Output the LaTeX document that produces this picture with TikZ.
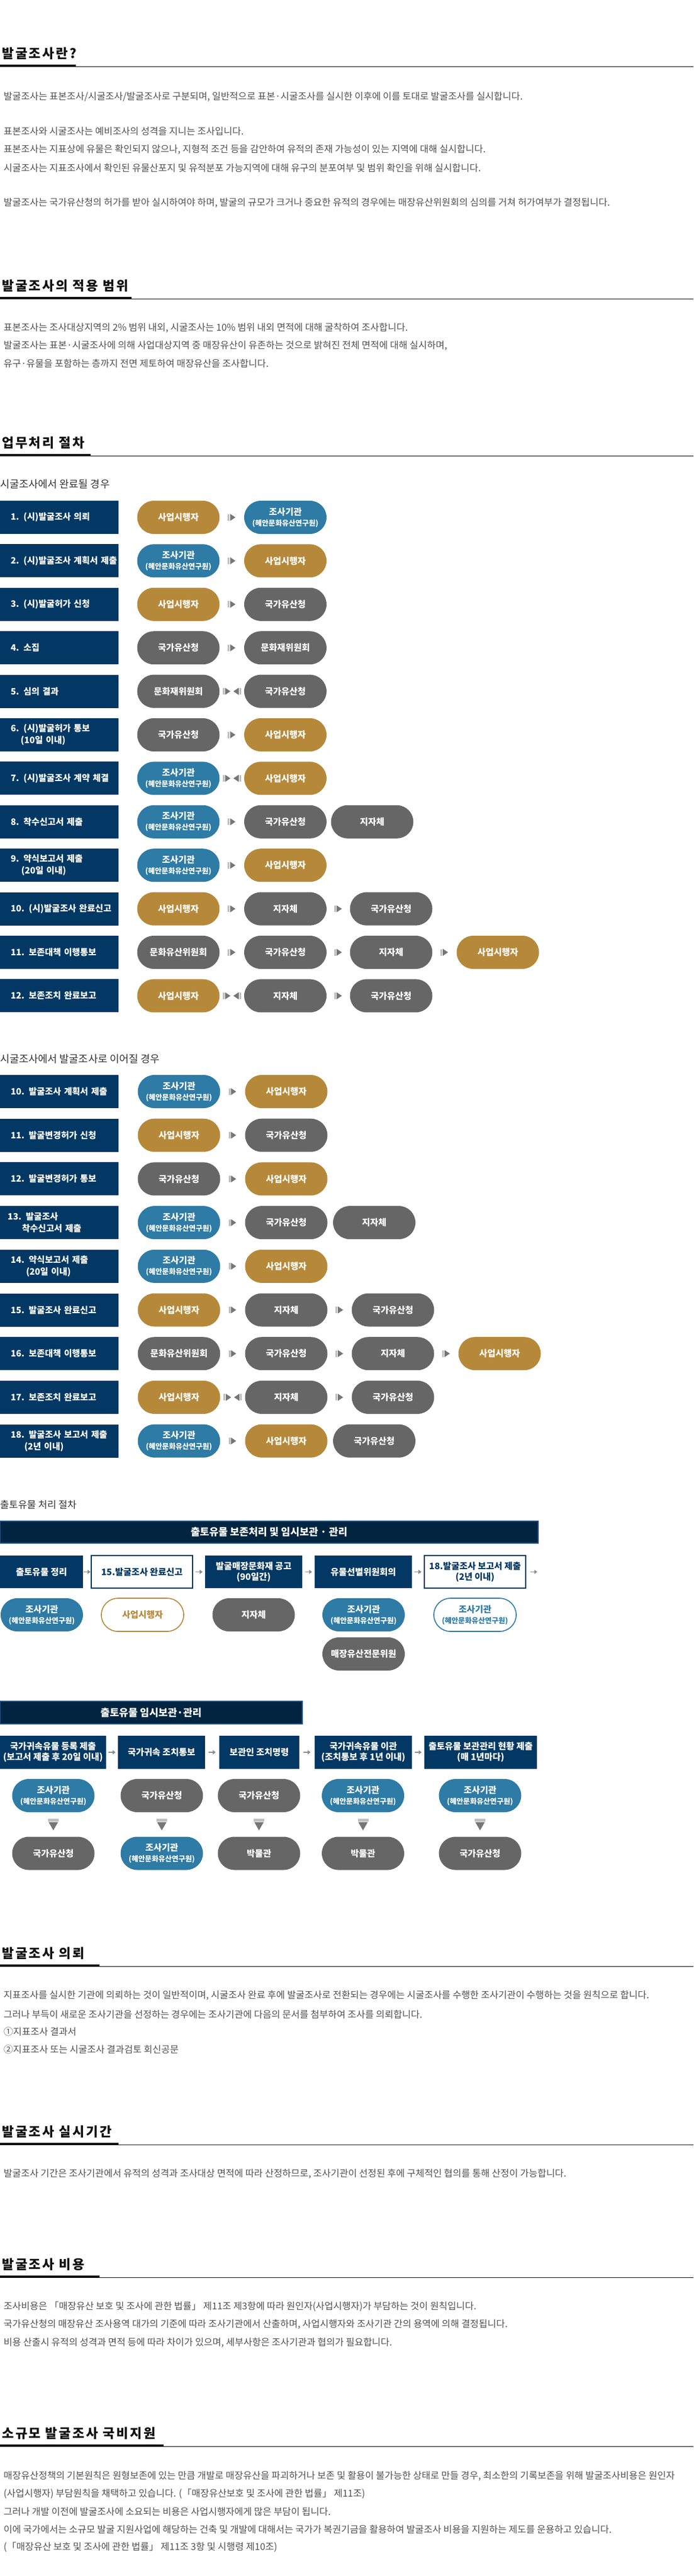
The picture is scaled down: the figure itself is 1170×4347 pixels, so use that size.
\documentclass[tikz,border=0pt]{standalone}
\usepackage{fontspec}
\setmainfont{Noto Sans CJK KR}
\newfontfamily\headfont[LetterSpace=12]{Noto Sans CJK KR}
\usetikzlibrary{decorations.markings,arrows.meta}

\definecolor{cnavy}{RGB}{2,56,99}
\definecolor{cbanner}{RGB}{1,37,64}
\definecolor{cbanedge}{RGB}{30,80,130}
\definecolor{cgold}{RGB}{182,137,58}
\definecolor{cblue}{RGB}{46,123,165}
\definecolor{cgray}{RGB}{102,102,102}
\definecolor{ctext}{RGB}{80,80,80}
\definecolor{csub}{RGB}{51,51,51}
\definecolor{chead}{RGB}{17,17,17}
\definecolor{carrbar}{RGB}{192,192,192}
\definecolor{carrtri}{RGB}{118,118,118}
\definecolor{cstep}{RGB}{140,140,140}

\newcommand{\bodyfnt}{\fontsize{16pt}{19pt}\selectfont}
\newcommand{\headfnt}{\headfont\bfseries\fontsize{22pt}{26pt}\selectfont}
\newcommand{\subfnt}{\fontsize{17.5pt}{21pt}\selectfont}
\newcommand{\boxfnt}{\bfseries\fontsize{14.8pt}{20pt}\selectfont}
\newcommand{\pillfnt}{\bfseries\fontsize{15pt}{17pt}\selectfont}
\newcommand{\orgfnt}{\fontsize{12.3pt}{14pt}\selectfont}
\newcommand{\stepfnt}{\bfseries\fontsize{15pt}{18pt}\selectfont}
\newcommand{\banfnt}{\bfseries\fontsize{17pt}{20pt}\selectfont}
\newcommand{\orgname}{조사기관\\[1pt]{\orgfnt(혜안문화유산연구원)}}
\newcommand{\lpad}{\hspace*{18pt}}

\tikzset{
  every node/.style={inner sep=0pt},
  body/.style={anchor=west, text=ctext, font=\bodyfnt},
  head/.style={anchor=west, text=chead, font=\headfnt},
  subhead/.style={anchor=west, text=csub, font=\subfnt},
  rowbox/.style={fill=cnavy, minimum height=56pt, text width=200pt, align=left, text=white, font=\boxfnt},
  pill/.style={rectangle, rounded corners=28pt, minimum width=139pt, minimum height=56pt, align=center, text=white, font=\pillfnt},
  pgold/.style={pill, fill=cgold},
  pblue/.style={pill, fill=cblue},
  pgray/.style={pill, fill=cgray},
  pgoldo/.style={pill, fill=white, draw=cgold, line width=1.6pt, text=cgold},
  pblueo/.style={pill, fill=white, draw=cblue, line width=1.6pt, text=cblue},
  stepbox/.style={fill=cnavy, minimum height=55pt, align=center, text=white, font=\stepfnt},
  stepwhite/.style={fill=white, draw=cnavy, line width=2pt, minimum height=55pt, align=center, text=cnavy, font=\stepfnt},
  banner/.style={fill=cbanner, draw=cbanedge, line width=1.5pt, minimum height=37pt, text=white, font=\banfnt},
  fwd/.style={decoration={markings, mark=at position 0.5 with {\fill[carrbar] (-7,-5.5) rectangle (-4,5.5); \fill[carrtri] (-3,-6) -- (6,0) -- (-3,6) -- cycle;}}, decorate},
  bidir/.style={decoration={markings, mark=at position 0.5 with {\fill[carrbar] (-15.5,-5.5) rectangle (-12.5,5.5); \fill[carrtri] (-11.5,-6) -- (-2.5,0) -- (-11.5,6) -- cycle; \fill[carrtri] (11.5,-6) -- (2.5,0) -- (11.5,6) -- cycle; \fill[carrbar] (12.5,-5.5) rectangle (15.5,5.5);}}, decorate},
  steparr/.style={decoration={markings, mark=at position 0.5 with {\draw[cstep, line width=1.8pt, -{Triangle[length=5pt,width=7pt]}] (-6,0) -- (6,0);}}, decorate},
  downarr/.style={decoration={markings, mark=at position 0.5 with {\fill[carrbar] (-10,-9) rectangle (-5,9); \fill[carrtri] (-4,-8) -- (10,0) -- (-4,8) -- cycle;}}, decorate},
}

\begin{document}
\begin{tikzpicture}[x=1pt,y=-1pt]
\fill[white] (0,0) rectangle (1170,4347);
\useasboundingbox (0,0) rectangle (1170,4347);

% ===== Section 1
\node[head] (h1) at (3,90) {발굴조사란?};
\fill[chead] (0,109) rectangle (128,113);
\draw[chead, line width=1.5pt] (0,112.25) -- (1170,112.25);
\node[body] (p11) at (6,163) {발굴조사는 표본조사/시굴조사/발굴조사로 구분되며, 일반적으로 표본·시굴조사를 실시한 이후에 이를 토대로 발굴조사를 실시합니다.};
\node[body] (p12) at (6,222) {표본조사와 시굴조사는 예비조사의 성격을 지니는 조사입니다.};
\node[body] (p13) at (6,252) {표본조사는 지표상에 유물은 확인되지 않으나, 지형적 조건 등을 감안하여 유적의 존재 가능성이 있는 지역에 대해 실시합니다.};
\node[body] (p14) at (6,283) {시굴조사는 지표조사에서 확인된 유물산포지 및 유적분포 가능지역에 대해 유구의 분포여부 및 범위 확인을 위해 실시합니다.};
\node[body] (p15) at (6,342) {발굴조사는 국가유산청의 허가를 받아 실시하여야 하며, 발굴의 규모가 크거나 중요한 유적의 경우에는 매장유산위원회의 심의를 거쳐 허가여부가 결정됩니다.};

% ===== Section 2
\node[head] (h2) at (3,482) {발굴조사의 적용 범위};
\fill[chead] (0,501) rectangle (222,505);
\draw[chead, line width=1.5pt] (0,504.25) -- (1170,504.25);
\node[body] (p21) at (6,553) {표본조사는 조사대상지역의 2\% 범위 내외, 시굴조사는 10\% 범위 내외 면적에 대해 굴착하여 조사합니다.};
\node[body] (p22) at (6,583) {발굴조사는 표본·시굴조사에 의해 사업대상지역 중 매장유산이 유존하는 것으로 밝혀진 전체 면적에 대해 실시하며,};
\node[body] (p23) at (6,613) {유구·유물을 포함하는 층까지 전면 제토하여 매장유산을 조사합니다.};

% ===== Section 3
\node[head] (h3) at (3,747) {업무처리 절차};
\fill[chead] (0,766) rectangle (153,770);
\draw[chead, line width=1.5pt] (0,769.25) -- (1170,769.25);

\node[subhead] (sh1) at (0,817) {시굴조사에서 완료될 경우};

% row 1
\node[rowbox] (a1) at (100,873) {\lpad 1. (시)발굴조사 의뢰};
\node[pgold] (a1c1) at (301,873) {사업시행자};
\node[pblue] (a1c2) at (481.5,873) {\orgname};
\path[fwd] (a1c1) -- (a1c2);
% row 2
\node[rowbox] (a2) at (100,946.4) {\lpad 2. (시)발굴조사 계획서 제출};
\node[pblue] (a2c1) at (301,946.4) {\orgname};
\node[pgold] (a2c2) at (481.5,946.4) {사업시행자};
\path[fwd] (a2c1) -- (a2c2);
% row 3
\node[rowbox] (a3) at (100,1019.8) {\lpad 3. (시)발굴허가 신청};
\node[pgold] (a3c1) at (301,1019.8) {사업시행자};
\node[pgray] (a3c2) at (481.5,1019.8) {국가유산청};
\path[fwd] (a3c1) -- (a3c2);
% row 4
\node[rowbox] (a4) at (100,1093.2) {\lpad 4. 소집};
\node[pgray] (a4c1) at (301,1093.2) {국가유산청};
\node[pgray] (a4c2) at (481.5,1093.2) {문화재위원회};
\path[fwd] (a4c1) -- (a4c2);
% row 5
\node[rowbox] (a5) at (100,1166.6) {\lpad 5. 심의 결과};
\node[pgray] (a5c1) at (301,1166.6) {문화재위원회};
\node[pgray] (a5c2) at (481.5,1166.6) {국가유산청};
\path[bidir] (a5c1) -- (a5c2);
% row 6
\node[rowbox] (a6) at (100,1240) {\lpad 6. (시)발굴허가 통보\\\lpad\hspace*{17pt}(10일 이내)};
\node[pgray] (a6c1) at (301,1240) {국가유산청};
\node[pgold] (a6c2) at (481.5,1240) {사업시행자};
\path[fwd] (a6c1) -- (a6c2);
% row 7
\node[rowbox] (a7) at (100,1313.4) {\lpad 7. (시)발굴조사 계약 체결};
\node[pblue] (a7c1) at (301,1313.4) {\orgname};
\node[pgold] (a7c2) at (481.5,1313.4) {사업시행자};
\path[bidir] (a7c1) -- (a7c2);
% row 8
\node[rowbox] (a8) at (100,1386.8) {\lpad 8. 착수신고서 제출};
\node[pblue] (a8c1) at (301,1386.8) {\orgname};
\node[pgray] (a8c2) at (481.5,1386.8) {국가유산청};
\node[pgray] (a8c3) at (628,1386.8) {지자체};
\path[fwd] (a8c1) -- (a8c2);
% row 9
\node[rowbox] (a9) at (100,1460.2) {\lpad 9. 약식보고서 제출\\\lpad\hspace*{18pt}(20일 이내)};
\node[pblue] (a9c1) at (301,1460.2) {\orgname};
\node[pgold] (a9c2) at (481.5,1460.2) {사업시행자};
\path[fwd] (a9c1) -- (a9c2);
% row 10
\node[rowbox] (a10) at (100,1533.6) {\lpad 10. (시)발굴조사 완료신고};
\node[pgold] (a10c1) at (301,1533.6) {사업시행자};
\node[pgray] (a10c2) at (481.5,1533.6) {지자체};
\node[pgray] (a10c3) at (660,1533.6) {국가유산청};
\path[fwd] (a10c1) -- (a10c2);
\path[fwd] (a10c2) -- (a10c3);
% row 11
\node[rowbox] (a11) at (100,1607) {\lpad 11. 보존대책 이행통보};
\node[pgray] (a11c1) at (301,1607) {문화유산위원회};
\node[pgray] (a11c2) at (481.5,1607) {국가유산청};
\node[pgray] (a11c3) at (660,1607) {지자체};
\node[pgold] (a11c4) at (840,1607) {사업시행자};
\path[fwd] (a11c1) -- (a11c2);
\path[fwd] (a11c2) -- (a11c3);
\path[fwd] (a11c3) -- (a11c4);
% row 12
\node[rowbox] (a12) at (100,1680.4) {\lpad 12. 보존조치 완료보고};
\node[pgold] (a12c1) at (301,1680.4) {사업시행자};
\node[pgray] (a12c2) at (481.5,1680.4) {지자체};
\node[pgray] (a12c3) at (660,1680.4) {국가유산청};
\path[bidir] (a12c1) -- (a12c2);
\path[fwd] (a12c2) -- (a12c3);

% ===== chart 2
\node[subhead] (sh2) at (0,1787) {시굴조사에서 발굴조사로 이어질 경우};

\node[rowbox] (b10) at (100,1842) {\lpad 10. 발굴조사 계획서 제출};
\node[pblue] (b10c1) at (302,1842) {\orgname};
\node[pgold] (b10c2) at (483,1842) {사업시행자};
\path[fwd] (b10c1) -- (b10c2);

\node[rowbox] (b11) at (100,1915.7) {\lpad 11. 발굴변경허가 신청};
\node[pgold] (b11c1) at (302,1915.7) {사업시행자};
\node[pgray] (b11c2) at (483,1915.7) {국가유산청};
\path[fwd] (b11c1) -- (b11c2);

\node[rowbox] (b12) at (100,1989.4) {\lpad 12. 발굴변경허가 통보};
\node[pgray] (b12c1) at (302,1989.4) {국가유산청};
\node[pgold] (b12c2) at (483,1989.4) {사업시행자};
\path[fwd] (b12c1) -- (b12c2);

\node[rowbox] (b13) at (100,2063.1) {\hspace*{13pt}13. 발굴조사\\\hspace*{37pt}착수신고서 제출};
\node[pblue] (b13c1) at (302,2063.1) {\orgname};
\node[pgray] (b13c2) at (483,2063.1) {국가유산청};
\node[pgray] (b13c3) at (631.5,2063.1) {지자체};
\path[fwd] (b13c1) -- (b13c2);

\node[rowbox] (b14) at (100,2136.8) {\lpad 14. 약식보고서 제출\\\lpad\hspace*{26pt}(20일 이내)};
\node[pblue] (b14c1) at (302,2136.8) {\orgname};
\node[pgold] (b14c2) at (483,2136.8) {사업시행자};
\path[fwd] (b14c1) -- (b14c2);

\node[rowbox] (b15) at (100,2210.5) {\lpad 15. 발굴조사 완료신고};
\node[pgold] (b15c1) at (302,2210.5) {사업시행자};
\node[pgray] (b15c2) at (483,2210.5) {지자체};
\node[pgray] (b15c3) at (663,2210.5) {국가유산청};
\path[fwd] (b15c1) -- (b15c2);
\path[fwd] (b15c2) -- (b15c3);

\node[rowbox] (b16) at (100,2284.2) {\lpad 16. 보존대책 이행통보};
\node[pgray] (b16c1) at (302,2284.2) {문화유산위원회};
\node[pgray] (b16c2) at (483,2284.2) {국가유산청};
\node[pgray] (b16c3) at (663,2284.2) {지자체};
\node[pgold] (b16c4) at (843,2284.2) {사업시행자};
\path[fwd] (b16c1) -- (b16c2);
\path[fwd] (b16c2) -- (b16c3);
\path[fwd] (b16c3) -- (b16c4);

\node[rowbox] (b17) at (100,2357.9) {\lpad 17. 보존조치 완료보고};
\node[pgold] (b17c1) at (302,2357.9) {사업시행자};
\node[pgray] (b17c2) at (483,2357.9) {지자체};
\node[pgray] (b17c3) at (663,2357.9) {국가유산청};
\path[bidir] (b17c1) -- (b17c2);
\path[fwd] (b17c2) -- (b17c3);

\node[rowbox] (b18) at (100,2431.6) {\lpad 18. 발굴조사 보고서 제출\\\lpad\hspace*{23pt}(2년 이내)};
\node[pblue] (b18c1) at (302,2431.6) {\orgname};
\node[pgold] (b18c2) at (483,2431.6) {사업시행자};
\node[pgray] (b18c3) at (631.5,2431.6) {국가유산청};
\path[fwd] (b18c1) -- (b18c2);

% ===== 출토유물 처리 절차
\node[subhead, font=\fontsize{16.5pt}{19pt}\selectfont] (sh3) at (0,2539) {출토유물 처리 절차};
\node[banner, minimum width=908pt] (ban1) at (454,2585.5) {출토유물 보존처리 및 임시보관 · 관리};

\node[stepbox, minimum width=140pt] (s1) at (70,2652.5) {출토유물 정리};
\node[stepwhite, minimum width=171pt] (s2) at (239.5,2652.5) {15.발굴조사 완료신고};
\node[stepbox, minimum width=164pt] (s3) at (428,2652.5) {발굴매장문화재 공고\\(90일간)};
\node[stepbox, minimum width=164pt] (s4) at (613,2652.5) {유물선별위원회의};
\node[stepwhite, minimum width=171pt] (s5) at (801.5,2652.5) {18.발굴조사 보고서 제출\\(2년 이내)};
\coordinate (s6) at (913,2652.5);
\path[steparr] (s1) -- (s2);
\path[steparr] (s2) -- (s3);
\path[steparr] (s3) -- (s4);
\path[steparr] (s4) -- (s5);
\path[steparr] (s5) -- (s6);

\node[pblue] (q1) at (70.5,2725) {\orgname};
\node[pgoldo] (q2) at (240.5,2725) {사업시행자};
\node[pgray] (q3) at (428,2725) {지자체};
\node[pblue] (q4) at (613.5,2725) {\orgname};
\node[pgray] (q4b) at (613.5,2791) {매장유산전문위원};
\node[pblueo] (q5) at (801.5,2725) {\orgname};

\node[banner, minimum width=510pt, minimum height=38pt] (ban2) at (255,2890) {출토유물 임시보관·관리};

\node[stepbox, minimum width=179pt, minimum height=56pt] (t1) at (89.5,2957) {국가귀속유물 등록 제출\\(보고서 제출 후 20일 이내)};
\node[stepbox, minimum width=147pt, minimum height=56pt] (t2) at (272.5,2957) {국가귀속 조치통보};
\node[stepbox, minimum width=135pt, minimum height=56pt] (t3) at (437.5,2957) {보관인 조치명령};
\node[stepbox, minimum width=164pt, minimum height=56pt] (t4) at (613,2957) {국가귀속유물 이관\\(조치통보 후 1년 이내)};
\node[stepbox, minimum width=190pt, minimum height=56pt] (t5) at (811,2957) {출토유물 보관관리 현황 제출\\(매 1년마다)};
\path[steparr] (t1) -- (t2);
\path[steparr] (t2) -- (t3);
\path[steparr] (t3) -- (t4);
\path[steparr] (t4) -- (t5);

\node[pblue] (u1) at (90,3030) {\orgname};
\node[pgray] (u2) at (273,3030) {국가유산청};
\node[pgray] (u3) at (437,3030) {국가유산청};
\node[pblue] (u4) at (612.5,3030) {\orgname};
\node[pblue] (u5) at (810,3030) {\orgname};

\node[pgray] (v1) at (90,3127.5) {국가유산청};
\node[pblue] (v2) at (273,3127.5) {\orgname};
\node[pgray] (v3) at (437,3127.5) {박물관};
\node[pgray] (v4) at (612.5,3127.5) {박물관};
\node[pgray] (v5) at (810,3127.5) {국가유산청};
\path[downarr] (u1) -- (v1);
\path[downarr] (u2) -- (v2);
\path[downarr] (u3) -- (v3);
\path[downarr] (u4) -- (v4);
\path[downarr] (u5) -- (v5);

% ===== Section 5
\node[head] (h5) at (3,3296) {발굴조사 의뢰};
\fill[chead] (0,3315) rectangle (168,3319);
\draw[chead, line width=1.5pt] (0,3318.25) -- (1170,3318.25);
\node[body] (p51) at (6,3367) {지표조사를 실시한 기관에 의뢰하는 것이 일반적이며, 시굴조사 완료 후에 발굴조사로 전환되는 경우에는 시굴조사를 수행한 조사기관이 수행하는 것을 원칙으로 합니다.};
\node[body] (p52) at (6,3399) {그러나 부득이 새로운 조사기관을 선정하는 경우에는 조사기관에 다음의 문서를 첨부하여 조사를 의뢰합니다.};
\node[body] (p53) at (6,3428) {①지표조사 결과서};
\node[body] (p54) at (6,3458) {②지표조사 또는 시굴조사 결과검토 회신공문};

% ===== Section 6
\node[head] (h6) at (3,3597) {발굴조사 실시기간};
\fill[chead] (0,3616) rectangle (200,3620);
\draw[chead, line width=1.5pt] (0,3619.25) -- (1170,3619.25);
\node[body] (p61) at (6,3668) {발굴조사 기간은 조사기관에서 유적의 성격과 조사대상 면적에 따라 산정하므로, 조사기관이 선정된 후에 구체적인 협의를 통해 산정이 가능합니다.};

% ===== Section 7
\node[head] (h7) at (3,3821) {발굴조사 비용};
\fill[chead] (0,3840) rectangle (168,3844);
\draw[chead, line width=1.5pt] (0,3843.25) -- (1170,3843.25);
\node[body] (p71) at (6,3892) {조사비용은 「매장유산 보호 및 조사에 관한 법률」 제11조 제3항에 따라 원인자(사업시행자)가 부담하는 것이 원칙입니다.};
\node[body] (p72) at (6,3922) {국가유산청의 매장유산 조사용역 대가의 기준에 따라 조사기관에서 산출하며, 사업시행자와 조사기관 간의 용역에 의해 결정됩니다.};
\node[body] (p73) at (6,3953) {비용 산출시 유적의 성격과 면적 등에 따라 차이가 있으며, 세부사항은 조사기관과 협의가 필요합니다.};

% ===== Section 8
\node[head] (h8) at (3,4106) {소규모 발굴조사 국비지원};
\fill[chead] (0,4125) rectangle (276,4129);
\draw[chead, line width=1.5pt] (0,4128.25) -- (1170,4128.25);
\node[body] (p81) at (6,4178) {매장유산정책의 기본원칙은 원형보존에 있는 만큼 개발로 매장유산을 파괴하거나 보존 및 활용이 불가능한 상태로 만들 경우, 최소한의 기록보존을 위해 발굴조사비용은 원인자};
\node[body] (p82) at (6,4208) {(사업시행자) 부담원칙을 채택하고 있습니다. (「매장유산보호 및 조사에 관한 법률」 제11조)};
\node[body] (p83) at (6,4238) {그러나 개발 이전에 발굴조사에 소요되는 비용은 사업시행자에게 많은 부담이 됩니다.};
\node[body] (p84) at (6,4268) {이에 국가에서는 소규모 발굴 지원사업에 해당하는 건축 및 개발에 대해서는 국가가 복권기금을 활용하여 발굴조사 비용을 지원하는 제도를 운용하고 있습니다.};
\node[body] (p85) at (6,4298) {(「매장유산 보호 및 조사에 관한 법률」 제11조 3항 및 시행령 제10조)};
\end{tikzpicture}
\end{document}
